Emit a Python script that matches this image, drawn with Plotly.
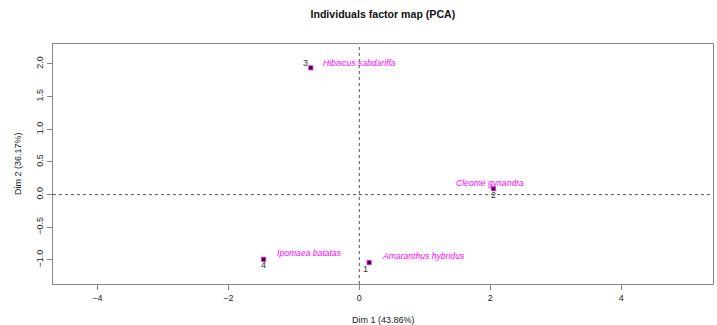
import plotly.graph_objects as go

# ---- data ----
species = ["Amaranthus hybridus", "Cleome gynandra", "Hibiscus sabdariffa", "Ipomaea batatas"]
ids = ["1", "2", "3", "4"]
dim1 = [0.15, 2.05, -0.74, -1.46]
dim2 = [-1.04, 0.09, 1.94, -0.99]
x_ticks = [-4, -2, 0, 2, 4]
y_ticks = [-1.0, -0.5, 0.0, 0.5, 1.0, 1.5, 2.0]
title = "Individuals factor map (PCA)"
x_title = "Dim 1 (43.86%)"
y_title = "Dim 2 (36.17%)"

# ---- label placement (styling, pixel offsets) ----
name_style = [  # (xanchor, xshift, yshift)
    ("left", 11, 7),
    ("center", -4, 6),
    ("left", 10, 5),
    ("left", 11, 6),
]
id_style = [  # (xshift, yshift)
    (-4, -6),
    (0, -6),
    (-5, 5),
    (0, -6),
]

MAGENTA = "#FF00FF"
FONT = "Liberation Sans, Arial, sans-serif"

fig = go.Figure()
fig.add_trace(go.Scatter(
    x=dim1, y=dim2, mode="markers",
    marker=dict(symbol="square", size=4, color="black",
                line=dict(color=MAGENTA, width=1)),
    hoverinfo="skip", showlegend=False,
))

for i in range(len(species)):
    xa, xs, ys = name_style[i]
    fig.add_annotation(x=dim1[i], y=dim2[i], text="<i>" + species[i] + "</i>", showarrow=False,
                       xanchor=xa, yanchor="middle", xshift=xs, yshift=ys,
                       font=dict(family=FONT, size=8.6, color=MAGENTA))
    fig.add_annotation(x=dim1[i], y=dim2[i], text=ids[i], showarrow=False,
                       xanchor="center", yanchor="middle",
                       xshift=id_style[i][0], yshift=id_style[i][1],
                       font=dict(family=FONT, size=9, color="#333333"))

fig.add_shape(type="line", xref="x", yref="paper", x0=0, x1=0, y0=0, y1=1,
              line=dict(color="#555555", width=1, dash="3px,3px"))
fig.add_shape(type="line", xref="paper", yref="y", x0=0, x1=1, y0=0, y1=0,
              line=dict(color="#555555", width=1, dash="3px,3px"))

# axis titles as paper annotations
fig.add_annotation(xref="paper", yref="paper", x=0.5, y=0, yshift=-36,
                   text=x_title, showarrow=False, xanchor="center", yanchor="middle",
                   font=dict(family=FONT, size=9, color="#222222"))
fig.add_annotation(xref="paper", yref="paper", x=0, y=0.5, xshift=-35,
                   text=y_title, showarrow=False, textangle=-90,
                   xanchor="center", yanchor="middle",
                   font=dict(family=FONT, size=9, color="#222222"))

fig.update_layout(
    width=717, height=325,
    margin=dict(l=53, r=4, t=44, b=41, autoexpand=False),
    paper_bgcolor="white", plot_bgcolor="white",
    font=dict(family=FONT, size=9, color="#222222"),
    title=dict(text="<b>" + title + "</b>", x=0.534, xanchor="center",
               y=0.955, yanchor="middle",
               font=dict(family=FONT, size=10.6, color="#111111")),
    showlegend=False,
)
fig.update_xaxes(
    range=[-4.676, 5.40], tickvals=x_ticks,
    ticktext=[str(v).replace("-", "\u2212") for v in x_ticks],
    showgrid=False, zeroline=False, automargin=False,
    showline=True, mirror=True, linecolor="#888888", linewidth=1,
    ticks="outside", ticklen=5, tickcolor="#888888",
    tickfont=dict(size=9, color="#222222"),
)
fig.update_yaxes(
    range=[-1.368, 2.305], tickvals=y_ticks,
    ticktext=[("%.1f" % v).replace("-", "\u2212") for v in y_ticks],
    tickangle=-90,
    showgrid=False, zeroline=False, automargin=False,
    showline=True, mirror=True, linecolor="#888888", linewidth=1,
    ticks="outside", ticklen=5, tickcolor="#888888",
    tickfont=dict(size=9, color="#222222"),
)

fig.write_html("out.html", config={"displayModeBar": False},
               post_script="document.body.style.margin='0';document.body.style.overflow='hidden';")
